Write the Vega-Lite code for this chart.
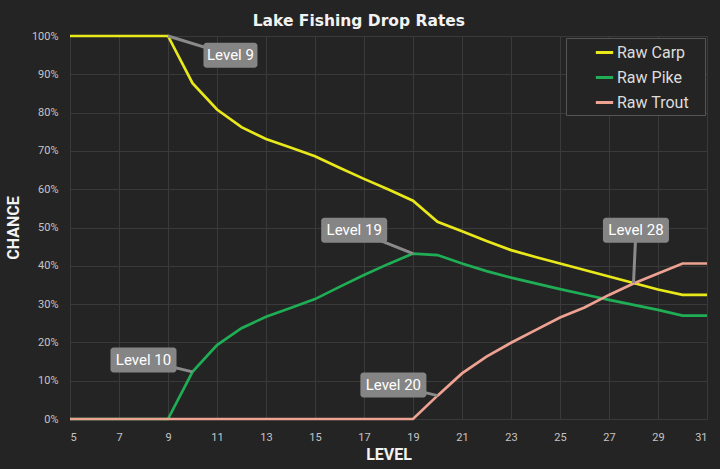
{
  "$schema": "https://vega.github.io/schema/vega-lite/v6.json",
  "width": 637,
  "height": 383,
  "autosize": "none",
  "padding": {"left": 70, "top": 36, "right": 13, "bottom": 50},
  "background": "#242424",
  "title": {
    "text": "Lake Fishing Drop Rates",
    "anchor": "middle",
    "frame": "bounds",
    "font": "DejaVu Sans",
    "fontSize": 15.5,
    "fontWeight": "bold",
    "color": "#f2f2f2",
    "offset": 1
  },
  "datasets": {
    "rates": [
      {"level": 5, "fish": "Raw Carp", "chance": 1.0},
      {"level": 6, "fish": "Raw Carp", "chance": 1.0},
      {"level": 7, "fish": "Raw Carp", "chance": 1.0},
      {"level": 8, "fish": "Raw Carp", "chance": 1.0},
      {"level": 9, "fish": "Raw Carp", "chance": 1.0},
      {"level": 10, "fish": "Raw Carp", "chance": 0.877},
      {"level": 11, "fish": "Raw Carp", "chance": 0.808},
      {"level": 12, "fish": "Raw Carp", "chance": 0.762},
      {"level": 13, "fish": "Raw Carp", "chance": 0.731},
      {"level": 14, "fish": "Raw Carp", "chance": 0.709},
      {"level": 15, "fish": "Raw Carp", "chance": 0.686},
      {"level": 16, "fish": "Raw Carp", "chance": 0.656},
      {"level": 17, "fish": "Raw Carp", "chance": 0.627},
      {"level": 18, "fish": "Raw Carp", "chance": 0.599},
      {"level": 19, "fish": "Raw Carp", "chance": 0.570},
      {"level": 20, "fish": "Raw Carp", "chance": 0.515},
      {"level": 21, "fish": "Raw Carp", "chance": 0.490},
      {"level": 22, "fish": "Raw Carp", "chance": 0.465},
      {"level": 23, "fish": "Raw Carp", "chance": 0.441},
      {"level": 24, "fish": "Raw Carp", "chance": 0.423},
      {"level": 25, "fish": "Raw Carp", "chance": 0.406},
      {"level": 26, "fish": "Raw Carp", "chance": 0.389},
      {"level": 27, "fish": "Raw Carp", "chance": 0.372},
      {"level": 28, "fish": "Raw Carp", "chance": 0.355},
      {"level": 29, "fish": "Raw Carp", "chance": 0.338},
      {"level": 30, "fish": "Raw Carp", "chance": 0.324},
      {"level": 31, "fish": "Raw Carp", "chance": 0.324},
      {"level": 5, "fish": "Raw Pike", "chance": 0},
      {"level": 6, "fish": "Raw Pike", "chance": 0},
      {"level": 7, "fish": "Raw Pike", "chance": 0},
      {"level": 8, "fish": "Raw Pike", "chance": 0},
      {"level": 9, "fish": "Raw Pike", "chance": 0},
      {"level": 10, "fish": "Raw Pike", "chance": 0.123},
      {"level": 11, "fish": "Raw Pike", "chance": 0.193},
      {"level": 12, "fish": "Raw Pike", "chance": 0.237},
      {"level": 13, "fish": "Raw Pike", "chance": 0.267},
      {"level": 14, "fish": "Raw Pike", "chance": 0.290},
      {"level": 15, "fish": "Raw Pike", "chance": 0.313},
      {"level": 16, "fish": "Raw Pike", "chance": 0.345},
      {"level": 17, "fish": "Raw Pike", "chance": 0.376},
      {"level": 18, "fish": "Raw Pike", "chance": 0.405},
      {"level": 19, "fish": "Raw Pike", "chance": 0.432},
      {"level": 20, "fish": "Raw Pike", "chance": 0.428},
      {"level": 21, "fish": "Raw Pike", "chance": 0.406},
      {"level": 22, "fish": "Raw Pike", "chance": 0.386},
      {"level": 23, "fish": "Raw Pike", "chance": 0.369},
      {"level": 24, "fish": "Raw Pike", "chance": 0.354},
      {"level": 25, "fish": "Raw Pike", "chance": 0.339},
      {"level": 26, "fish": "Raw Pike", "chance": 0.325},
      {"level": 27, "fish": "Raw Pike", "chance": 0.311},
      {"level": 28, "fish": "Raw Pike", "chance": 0.298},
      {"level": 29, "fish": "Raw Pike", "chance": 0.285},
      {"level": 30, "fish": "Raw Pike", "chance": 0.270},
      {"level": 31, "fish": "Raw Pike", "chance": 0.270},
      {"level": 5, "fish": "Raw Trout", "chance": 0},
      {"level": 6, "fish": "Raw Trout", "chance": 0},
      {"level": 7, "fish": "Raw Trout", "chance": 0},
      {"level": 8, "fish": "Raw Trout", "chance": 0},
      {"level": 9, "fish": "Raw Trout", "chance": 0},
      {"level": 10, "fish": "Raw Trout", "chance": 0},
      {"level": 11, "fish": "Raw Trout", "chance": 0},
      {"level": 12, "fish": "Raw Trout", "chance": 0},
      {"level": 13, "fish": "Raw Trout", "chance": 0},
      {"level": 14, "fish": "Raw Trout", "chance": 0},
      {"level": 15, "fish": "Raw Trout", "chance": 0},
      {"level": 16, "fish": "Raw Trout", "chance": 0},
      {"level": 17, "fish": "Raw Trout", "chance": 0},
      {"level": 18, "fish": "Raw Trout", "chance": 0},
      {"level": 19, "fish": "Raw Trout", "chance": 0},
      {"level": 20, "fish": "Raw Trout", "chance": 0.061},
      {"level": 21, "fish": "Raw Trout", "chance": 0.119},
      {"level": 22, "fish": "Raw Trout", "chance": 0.163},
      {"level": 23, "fish": "Raw Trout", "chance": 0.199},
      {"level": 24, "fish": "Raw Trout", "chance": 0.232},
      {"level": 25, "fish": "Raw Trout", "chance": 0.265},
      {"level": 26, "fish": "Raw Trout", "chance": 0.291},
      {"level": 27, "fish": "Raw Trout", "chance": 0.324},
      {"level": 28, "fish": "Raw Trout", "chance": 0.354},
      {"level": 29, "fish": "Raw Trout", "chance": 0.380},
      {"level": 30, "fish": "Raw Trout", "chance": 0.406},
      {"level": 31, "fish": "Raw Trout", "chance": 0.406}
    ],
    "notes": [
      {"label": "Level 9", "level": 9, "chance": 1.0, "boxLevel": 11.55, "boxChance": 0.95},
      {"label": "Level 10", "level": 10, "chance": 0.123, "boxLevel": 8.0, "boxChance": 0.154},
      {"label": "Level 19", "level": 19, "chance": 0.432, "boxLevel": 16.6, "boxChance": 0.493},
      {"label": "Level 20", "level": 20, "chance": 0.061, "boxLevel": 18.2, "boxChance": 0.089},
      {"label": "Level 28", "level": 28, "chance": 0.355, "boxLevel": 28.1, "boxChance": 0.493}
    ]
  },
  "layer": [
    {
      "data": {"name": "rates"},
      "mark": {"type": "line", "strokeWidth": 2.7},
      "encoding": {
        "x": {
          "field": "level",
          "type": "quantitative",
          "title": "LEVEL",
          "scale": {"domain": [5, 31], "nice": false, "zero": false},
          "axis": {"values": [5, 7, 9, 11, 13, 15, 17, 19, 21, 23, 25, 27, 29, 31], "tickCount": 20}
        },
        "y": {
          "field": "chance",
          "type": "quantitative",
          "title": "CHANCE",
          "scale": {"domain": [0, 1], "nice": false},
          "axis": {"format": ".0%", "values": [0, 0.1, 0.2, 0.3, 0.4, 0.5, 0.6, 0.7, 0.8, 0.9, 1.0], "tickCount": 20}
        },
        "color": {
          "field": "fish",
          "type": "nominal",
          "title": null,
          "scale": {
            "domain": ["Raw Carp", "Raw Pike", "Raw Trout"],
            "range": ["#e8e81a", "#1fae55", "#eea292"]
          },
          "legend": {
            "orient": "top-right",
            "offset": 2,
            "symbolType": "stroke",
            "symbolStrokeWidth": 3,
            "symbolSize": 300,
            "symbolOffset": 24,
            "labelOffset": 2,
            "labelFontSize": 16,
            "labelFont": "Roboto",
            "labelColor": "#dddddd",
            "labelExpr": "datum.label + '\u2800'",
            "rowPadding": 6,
            "padding": 4,
            "strokeColor": "#555555",
            "fillColor": "#242424"
          }
        }
      }
    },
    {
      "data": {"name": "notes"},
      "mark": {"type": "rule", "color": "#8a8a8a", "strokeWidth": 3},
      "encoding": {
        "x": {"field": "level", "type": "quantitative"},
        "y": {"field": "chance", "type": "quantitative"},
        "x2": {"field": "boxLevel"},
        "y2": {"field": "boxChance"}
      }
    },
    {
      "data": {"name": "notes"},
      "mark": {"type": "rect", "color": "#858585", "width": {"expr": "length(datum.label) * 12 - 30"}, "height": 25, "cornerRadius": 3},
      "encoding": {
        "x": {"field": "boxLevel", "type": "quantitative"},
        "y": {"field": "boxChance", "type": "quantitative"}
      }
    },
    {
      "data": {"name": "notes"},
      "mark": {"type": "text", "color": "#ffffff", "font": "Roboto", "fontSize": 15, "baseline": "middle", "align": "center"},
      "encoding": {
        "x": {"field": "boxLevel", "type": "quantitative"},
        "y": {"field": "boxChance", "type": "quantitative"},
        "text": {"field": "label"}
      }
    }
  ],
  "config": {
    "view": {"stroke": null},
    "axis": {
      "gridColor": "#3a3a3a",
      "gridWidth": 1,
      "domain": false,
      "ticks": false,
      "labelOverlap": false,
      "labelColor": "#c4c4c4",
      "labelFont": "Roboto",
      "labelFontSize": 11,
      "labelPadding": 12,
      "titleColor": "#f2f2f2",
      "titleFont": "Roboto",
      "titleFontSize": 16,
      "titleFontWeight": "bold"
    },
    "axisY": {"titlePadding": 10},
    "axisX": {"titlePadding": 4}
  }
}
